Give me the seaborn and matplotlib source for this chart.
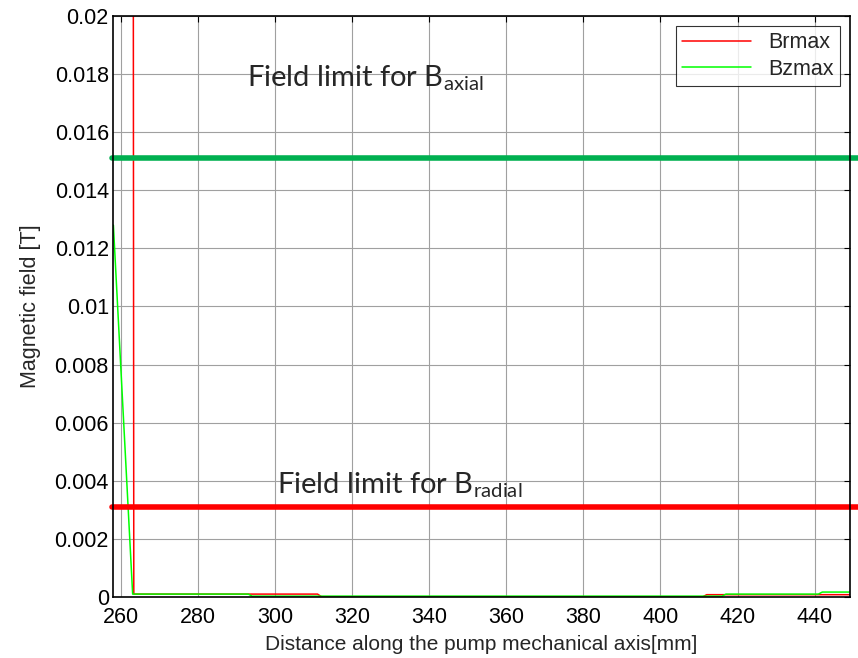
import numpy as np
import pandas as pd
import matplotlib
matplotlib.use("Agg")
import matplotlib.pyplot as plt
import seaborn as sns

# values
br_x = [263.0, 263.3, 311.0, 312.0, 411.0, 412.0, 451.0]
br_y = [0.05, 0.0001, 0.0001, 0.00001, 0.00001, 0.00008, 0.00008]
bz_x = [258.0, 263.0, 293.0, 294.0, 416.0, 417.0, 441.0, 442.0, 451.0]
bz_y = [0.0128, 0.0001, 0.0001, 0.00003, 0.00003, 0.0001, 0.0001, 0.00017, 0.00017]
limit_axial = 0.0151
limit_radial = 0.0031
xticks = [260, 280, 300, 320, 340, 360, 380, 400, 420, 440]
yticks = [0, 0.002, 0.004, 0.006, 0.008, 0.01, 0.012, 0.014, 0.016, 0.018, 0.02]
ytick_labels = ["0", "0.002", "0.004", "0.006", "0.008", "0.01", "0.012", "0.014", "0.016", "0.018", "0.02"]

sns.set_style("white")
plt.rcParams["font.family"] = ["Liberation Sans", "DejaVu Sans"]
plt.rcParams["mathtext.fontset"] = "custom"
plt.rcParams["mathtext.rm"] = "Lato"

df = pd.concat([
    pd.DataFrame({"x": br_x, "y": br_y, "series": "Brmax"}),
    pd.DataFrame({"x": bz_x, "y": bz_y, "series": "Bzmax"}),
])

fig = plt.figure(figsize=(8.58, 6.58), dpi=100)
ax = fig.add_axes([0.1317, 0.0927, 0.859, 0.883])

sns.lineplot(data=df, x="x", y="y", hue="series", palette=["#ff0000", "#00ff00"],
             linewidth=1.1, sort=False, estimator=None, ax=ax)

# field limit lines go a bit past the axes, as in the original
ax.axhline(limit_axial, xmin=-0.002, xmax=1.02, color="#00b050", linewidth=4, clip_on=False)
ax.axhline(limit_radial, xmin=-0.002, xmax=1.02, color="#ff0000", linewidth=4, clip_on=False)

ax.text(292.7, 0.0176, r"Field limit for B$_{\mathrm{axial}}$", fontsize=21, family="Lato", va="baseline")
ax.text(300.4, 0.00358, r"Field limit for B$_{\mathrm{radial}}$", fontsize=21, family="Lato", va="baseline")

ax.set_xlim(257.9, 449.2)
ax.set_ylim(0, 0.02)
ax.set_xticks(xticks)
ax.set_yticks(yticks)
ax.set_yticklabels(ytick_labels)
ax.tick_params(direction="in", top=True, right=True, length=4, labelsize=15.5, colors="black", pad=3)
ax.tick_params(axis="x", pad=7)
ax.grid(True, color="#a0a0a0", linewidth=0.8)
for s in ax.spines.values():
    s.set_color("black")
    s.set_linewidth(1.2)

ax.set_xlabel("Distance along the pump mechanical axis[mm]", fontsize=15, labelpad=5)
ax.set_ylabel("Magnetic field [T]", fontsize=15.5, labelpad=10)

leg = ax.legend(loc="upper right", fontsize=15.5, frameon=True, fancybox=False,
                edgecolor="black", borderaxespad=0.45, handlelength=3.2,
                borderpad=0.3, labelspacing=0.25)
leg.get_frame().set_linewidth(0.8)
for line in leg.get_lines():
    line.set_linewidth(1.1)

fig.savefig("out.png", dpi=100)
